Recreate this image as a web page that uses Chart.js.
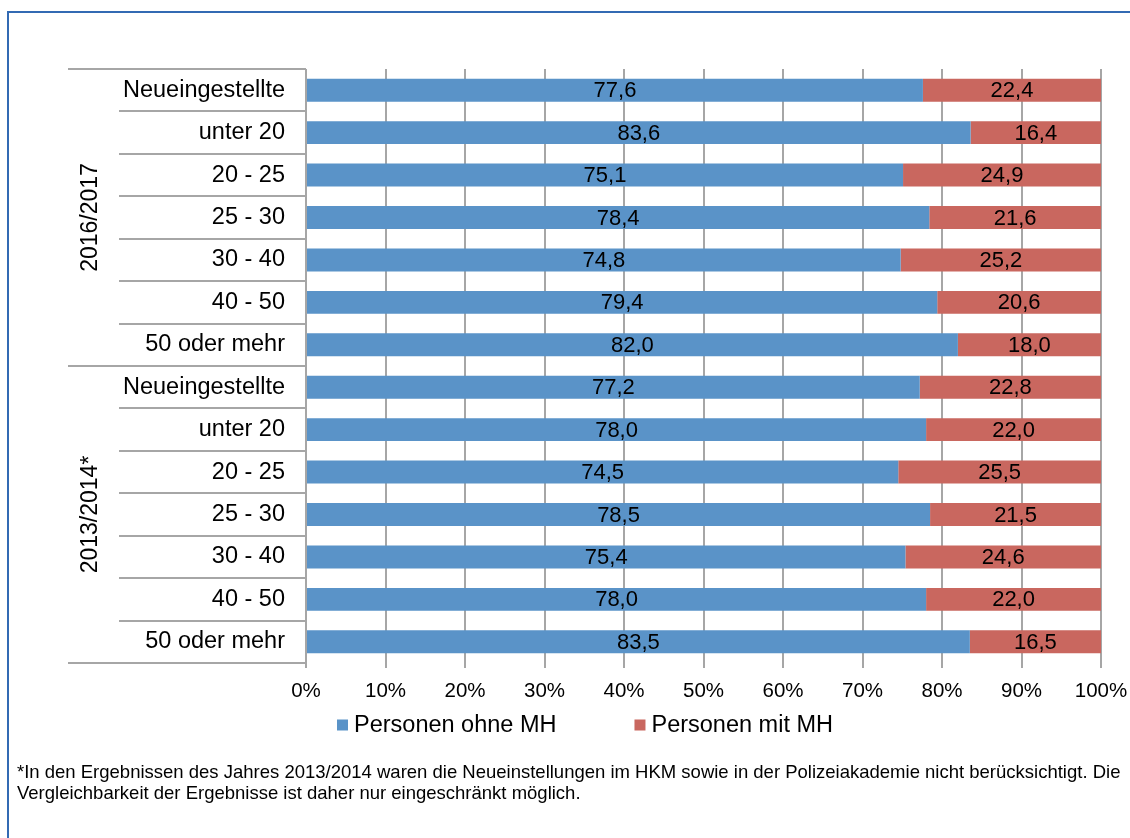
<!DOCTYPE html>
<html lang="de">
<head>
<meta charset="utf-8">
<title>Personen mit und ohne MH</title>
<script src="https://cdn.jsdelivr.net/npm/chart.js@4/dist/chart.umd.min.js"></script>
<style>
  html, body { margin: 0; padding: 0; background: #fff; }
  body { width: 1130px; height: 838px; position: relative; overflow: hidden; font-family: "Liberation Sans", Arial, sans-serif; }
  #frame { position: absolute; left: 7px; top: 11px; width: 1200px; height: 900px; border-left: 2px solid #336ab3; border-top: 2px solid #336ab3; }
  #chart { position: absolute; left: 0; top: 0; }
  #note { position: absolute; left: 17px; top: 761px; font-size: 18.5px; line-height: 21px; white-space: nowrap; color: #000; }
</style>
</head>
<body>
<div id="frame"></div>
<canvas id="chart" width="1130" height="838"></canvas>
<div id="note">*In den Ergebnissen des Jahres 2013/2014 waren die Neueinstellungen im HKM sowie in der Polizeiakademie nicht berücksichtigt. Die<br>Vergleichbarkeit der Ergebnisse ist daher nur eingeschränkt möglich.</div>

<script>
const groups = ["2016/2017", "2013/2014*"];
const groupSizes = [7, 7];
const categories = [
    "Neueingestellte", "unter 20", "20 - 25", "25 - 30", "30 - 40", "40 - 50", "50 oder mehr",
    "Neueingestellte", "unter 20", "20 - 25", "25 - 30", "30 - 40", "40 - 50", "50 oder mehr"
];
const seriesNames = ["Personen ohne MH", "Personen mit MH"];
const ohneMH = [77.6, 83.6, 75.1, 78.4, 74.8, 79.4, 82.0, 77.2, 78.0, 74.5, 78.5, 75.4, 78.0, 83.5];
const mitMH = [22.4, 16.4, 24.9, 21.6, 25.2, 20.6, 18.0, 22.8, 22.0, 25.5, 21.5, 24.6, 22.0, 16.5];

const FONT = '"Liberation Sans", Arial, sans-serif';
const GRID = "#a6a6a6";

Chart.defaults.font.family = FONT;
Chart.defaults.font.size = 23.5;
Chart.defaults.color = "#000";

// values in the middle of each bar segment, with decimal comma
const valueLabels = {
    id: "valueLabels",
    afterDatasetsDraw(chart) {
        const ctx = chart.ctx;
        ctx.save();
        ctx.font = "22px " + FONT;
        ctx.fillStyle = "#000";
        ctx.textAlign = "center";
        ctx.textBaseline = "middle";
        chart.data.datasets.forEach((ds, i) => {
            chart.getDatasetMeta(i).data.forEach((bar, j) => {
                const text = ds.data[j].toFixed(1).replace(".", ",");
                ctx.fillText(text, (bar.x + bar.base) / 2, bar.y + 1);
            });
        });
        ctx.restore();
    }
};

// separators left of the bars and the rotated year labels
const groupAxis = {
    id: "groupAxis",
    afterDraw(chart) {
        const { ctx, chartArea } = chart;
        const y = chart.scales.y;
        const edges = [0];
        groupSizes.forEach(n => edges.push(edges[edges.length - 1] + n));

        ctx.save();
        ctx.strokeStyle = GRID;
        ctx.lineWidth = 2;
        for (let i = 0; i <= categories.length; i++) {
            const py = Math.round(y.getPixelForValue(i - 0.5));
            const outer = edges.includes(i);
            ctx.beginPath();
            ctx.moveTo(chartArea.left - (outer ? 238 : 187), py);
            ctx.lineTo(chartArea.left, py);
            ctx.stroke();
        }

        ctx.font = "23px " + FONT;
        ctx.fillStyle = "#000";
        ctx.textAlign = "center";
        ctx.textBaseline = "middle";
        groups.forEach((g, k) => {
            const first = edges[k];
            const last = edges[k + 1] - 1;
            const cy = (y.getPixelForValue(first) + y.getPixelForValue(last)) / 2;
            ctx.save();
            ctx.translate(chartArea.left - 215, cy);
            ctx.rotate(-Math.PI / 2);
            ctx.fillText(g, 0, 0);
            ctx.restore();
        });
        ctx.restore();
    }
};

// one-row legend under the axis
const legendRow = {
    id: "legendRow",
    afterDraw(chart) {
        const ctx = chart.ctx;
        const box = 11, gap = 6, spacing = 78, cx = 585, cy = 725;
        ctx.save();
        ctx.font = "23.5px " + FONT;
        ctx.textAlign = "left";
        ctx.textBaseline = "middle";
        const items = chart.data.datasets.map(ds => ({ ds, w: box + gap + ctx.measureText(ds.label).width }));
        const total = items.reduce((s, it) => s + it.w, 0) + spacing * (items.length - 1);
        let x = cx - total / 2;
        items.forEach(it => {
            ctx.fillStyle = it.ds.backgroundColor;
            ctx.fillRect(x, cy - box / 2, box, box);
            ctx.fillStyle = "#000";
            ctx.fillText(it.ds.label, x + box + gap, cy + 1);
            x += it.w + spacing;
        });
        ctx.restore();
    }
};

new Chart(document.getElementById("chart"), {
    type: "bar",
    data: {
        labels: categories,
        datasets: [
            { label: seriesNames[0], data: ohneMH, backgroundColor: "#5a93c8" },
            { label: seriesNames[1], data: mitMH, backgroundColor: "#c9675f" }
        ]
    },
    options: {
        indexAxis: "y",
        responsive: false,
        animation: false,
        layout: { padding: { left: 0, right: 29, top: 69, bottom: 0 } },
        datasets: { bar: { categoryPercentage: 1, barPercentage: 0.54 } },
        plugins: {
            legend: { display: false },
            tooltip: { enabled: false }
        },
        scales: {
            x: {
                stacked: true,
                min: 0,
                max: 100,
                ticks: { stepSize: 10, padding: 11, maxRotation: 0, autoSkip: false, font: { size: 20.5 }, callback: v => v + "%" },
                grid: { color: GRID, lineWidth: 2, tickLength: 5 },
                border: { display: false },
                afterFit: s => { s.height = 175; s.paddingLeft = 0; s.paddingRight = 0; }
            },
            y: {
                stacked: true,
                grid: { display: false, drawTicks: false, tickLength: 0 },
                border: { display: false },
                ticks: { padding: 21, autoSkip: false },
                afterFit: s => { s.width = 306; s.paddingTop = 0; s.paddingBottom = 0; }
            }
        }
    },
    plugins: [valueLabels, groupAxis, legendRow]
});
</script>
</body>
</html>
